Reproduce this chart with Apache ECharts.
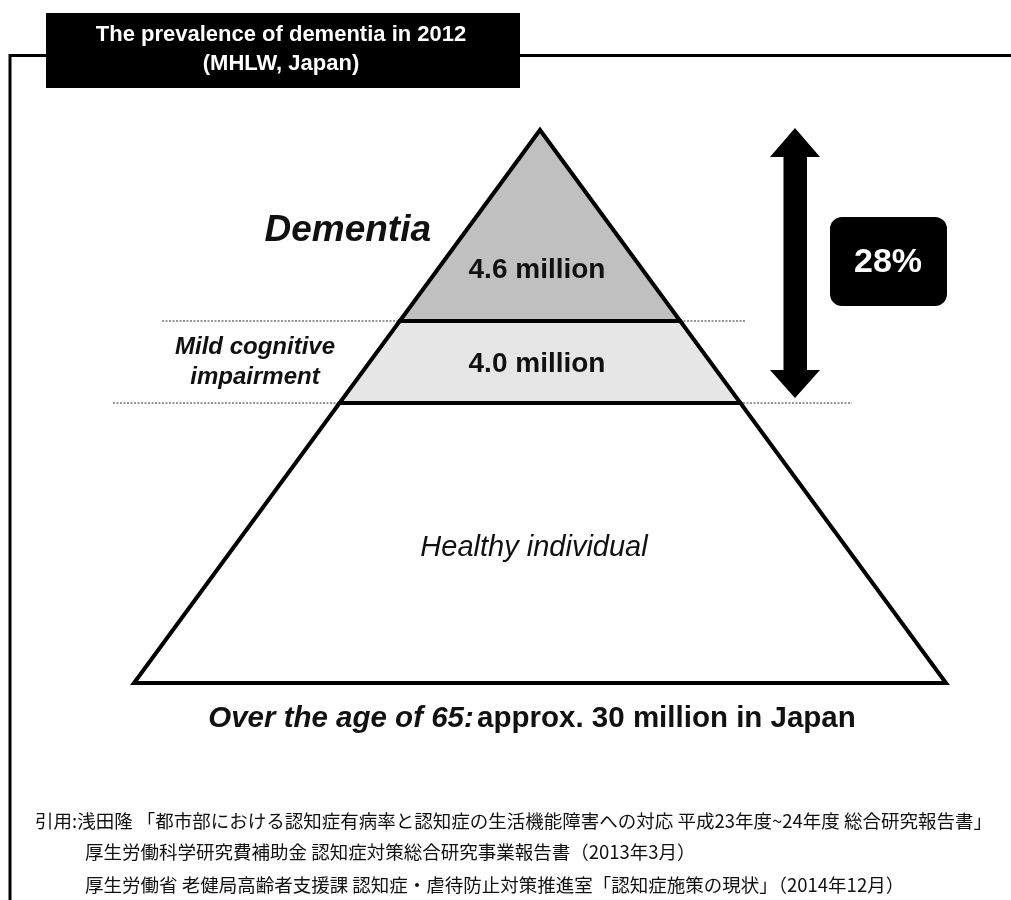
<!DOCTYPE html>
<html>
<head>
<meta charset="utf-8">
<script src="https://cdn.jsdelivr.net/npm/echarts@6/dist/echarts.min.js"></script>
<style>
  html, body { margin: 0; padding: 0; background: #ffffff; }
  #chart { width: 1011px; height: 900px; }
</style>
</head>
<body>
<div id="chart"></div>
<script>
// Population aged 65+ in Japan, 2012, split into tiers from the top of the pyramid down
const tierNames = ['Dementia', 'Mild cognitive\nimpairment', 'Healthy individual'];
const tierValues = [4.6, 4.0, null];          // million people (healthy tier is the remainder)
const totalOver65 = 30;                       // million people
const titleLines = ['The prevalence of dementia in 2012', '(MHLW, Japan)'];
const sourceLines = [
  '引用:浅田隆 「都市部における認知症有病率と認知症の生活機能障害への対応 平成23年度~24年度 総合研究報告書」',
  '厚生労働科学研究費補助金 認知症対策総合研究事業報告書（2013年3月）',
  '厚生労働省 老健局高齢者支援課 認知症・虐待防止対策推進室「認知症施策の現状」（2014年12月）'
];

// Drawing layout: tier boundaries as a fraction of the pyramid height (0 = apex)
const tierBounds = [0, 0.3454, 0.4937, 1];
const tierLabelDepth = [0.253, 0.423, 0.756];
const tierFill = ['#c0c0c0', '#e6e6e6', '#ffffff'];

const FONT = '"Liberation Sans", Arial, Helvetica, sans-serif';
const CJK = '"Noto Sans CJK JP", "Noto Sans CJK SC", sans-serif';

// Share of the 65+ population with dementia or MCI
const sharePct = Math.floor((tierValues[0] + tierValues[1]) / totalOver65 * 100);

const chart = echarts.init(document.getElementById('chart'), null, { renderer: 'canvas' });

function renderTier(params, api) {
  const i = params.dataIndex;
  const d0 = tierBounds[i];
  const d1 = tierBounds[i + 1];
  const pts = d0 === 0
    ? [api.coord([0, 0]), api.coord([d1, d1]), api.coord([-d1, d1])]
    : [api.coord([-d0, d0]), api.coord([d0, d0]), api.coord([d1, d1]), api.coord([-d1, d1])];

  const children = [{
    type: 'polygon',
    shape: { points: pts },
    style: { fill: tierFill[i], stroke: '#000', lineWidth: 4, lineJoin: 'miter' }
  }];

  const center = api.coord([0, tierLabelDepth[i]]);
  const val = api.value(1);
  if (i < 2) {
    // value label inside the tier
    children.push({
      type: 'text', x: center[0] - 3, y: center[1],
      style: {
        text: val.toFixed(1) + ' million', fill: '#111',
        font: 'bold 28px ' + FONT, align: 'center', verticalAlign: 'middle'
      }
    });
    // dotted guide along the tier's lower edge
    const yb = api.coord([0, d1])[1];
    const guide = i === 0 ? [162, 745] : [113, 852];
    children.push({
      type: 'line', z2: -1,
      shape: { x1: guide[0], y1: yb, x2: guide[1], y2: yb },
      style: { stroke: '#333', lineWidth: 1, lineDash: [2, 1.5] }
    });
  } else {
    children.push({
      type: 'text', x: center[0] - 6, y: center[1],
      style: {
        text: tierNames[i], fill: '#111',
        font: 'italic 29px ' + FONT, align: 'center', verticalAlign: 'middle'
      }
    });
  }

  // tier names to the left of the pyramid
  if (i === 0) {
    const c = api.coord([0, 0.182]);
    children.push({
      type: 'text', x: 431, y: c[1],
      style: {
        text: tierNames[0], fill: '#111',
        font: 'italic bold 37px ' + FONT, align: 'right', verticalAlign: 'middle'
      }
    });
  } else if (i === 1) {
    const c = api.coord([0, 0.42]);
    children.push({
      type: 'text', x: 255, y: c[1],
      style: {
        text: tierNames[1], fill: '#111', lineHeight: 30,
        font: 'italic bold 24px ' + FONT, align: 'center', verticalAlign: 'middle'
      }
    });
  }
  return { type: 'group', children: children };
}

const graphics = [
  // frame
  { type: 'polyline', shape: { points: [[10, 900], [10, 55.5], [46, 55.5]] },
    style: { stroke: '#000', lineWidth: 3, fill: null } },
  { type: 'line', shape: { x1: 520, y1: 55.5, x2: 1011, y2: 55.5 },
    style: { stroke: '#000', lineWidth: 3 } },
  // title box
  { type: 'rect', shape: { x: 46, y: 13, width: 474, height: 75 }, style: { fill: '#000' } },
  { type: 'text', x: 281, y: 35,
    style: { text: titleLines[0], fill: '#fff', font: 'bold 22px ' + FONT, align: 'center', verticalAlign: 'middle' } },
  { type: 'text', x: 281, y: 64,
    style: { text: titleLines[1], fill: '#fff', font: 'bold 22px ' + FONT, align: 'center', verticalAlign: 'middle' } },
  // double arrow spanning dementia + MCI
  { type: 'polygon',
    shape: { points: [[795, 128], [820, 157], [807, 157], [807, 370], [820, 370], [795, 398],
                      [770, 370], [783.5, 370], [783.5, 157], [770, 157]] },
    style: { fill: '#000' } },
  // share badge
  { type: 'rect', shape: { x: 830, y: 217, width: 117, height: 89, r: 12 }, style: { fill: '#000' } },
  { type: 'text', x: 888, y: 263,
    style: { text: sharePct + '%', fill: '#fff', font: 'bold 34px ' + FONT, align: 'center', verticalAlign: 'middle' } },
  // caption under the pyramid
  { type: 'text', x: 532, y: 719,
    style: {
      text: '{i|Over the age of 65:} {b|approx. ' + totalOver65 + ' million in Japan}',
      align: 'center', verticalAlign: 'middle',
      rich: {
        i: { font: 'italic bold 29.5px ' + FONT, fill: '#111' },
        b: { font: 'bold 29.5px ' + FONT, fill: '#111' }
      }
    } },
  // sources
  { type: 'text', x: 35, y: 821,
    style: { text: sourceLines[0], fill: '#111', font: '18.5px ' + CJK, align: 'left', verticalAlign: 'middle' } },
  { type: 'text', x: 85, y: 852,
    style: { text: sourceLines[1], fill: '#111', font: '18.5px ' + CJK, align: 'left', verticalAlign: 'middle' } },
  { type: 'text', x: 85, y: 885,
    style: { text: sourceLines[2], fill: '#111', font: '18.5px ' + CJK, align: 'left', verticalAlign: 'middle' } }
];

chart.setOption({
  backgroundColor: '#ffffff',
  animation: false,
  grid: { left: 134, top: 130, width: 812, height: 553, containLabel: false },
  xAxis: { type: 'value', min: -1, max: 1, show: false },
  yAxis: { type: 'value', min: 0, max: 1, inverse: true, show: false },
  series: [{
    type: 'custom',
    coordinateSystem: 'cartesian2d',
    renderItem: renderTier,
    data: tierNames.map((n, i) => ({ name: n, value: [i, tierValues[i] == null ? totalOver65 - tierValues[0] - tierValues[1] : tierValues[i]] })),
    silent: true
  }],
  graphic: graphics
});
</script>
</body>
</html>
